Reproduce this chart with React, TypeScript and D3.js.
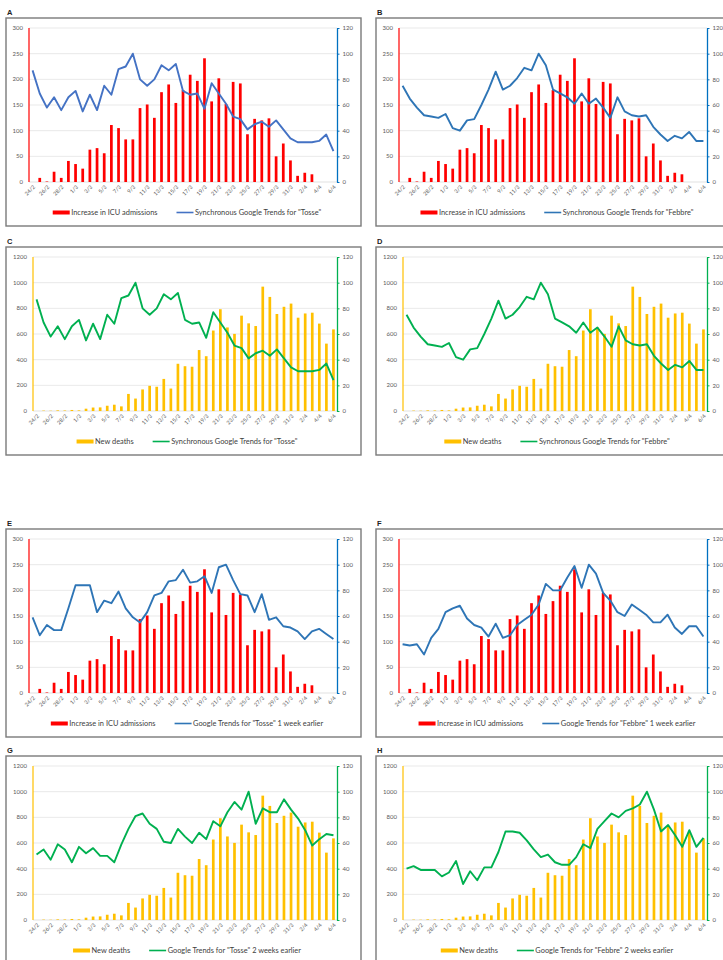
import { useEffect, useRef } from "react";
import * as d3 from "d3";

const dates = [
  "24/2", "25/2", "26/2", "27/2", "28/2", "29/2",
  "1/3", "2/3", "3/3", "4/3", "5/3", "6/3", "7/3", "8/3", "9/3", "10/3",
  "11/3", "12/3", "13/3", "14/3", "15/3", "16/3", "17/3", "18/3", "19/3", "20/3",
  "21/3", "22/3", "23/3", "24/3", "25/3", "26/3", "27/3", "28/3", "29/3", "30/3", "31/3",
  "1/4", "2/4", "3/4", "4/4", "5/4", "6/4"
];

const icuIncrease = [
  0, 8, 1, 20, 8, 41, 35, 26, 63, 66, 56, 111, 105, 83, 83, 144, 151, 125, 175, 190,
  154, 179, 209, 197, 241, 157, 202, 152, 195, 192, 93, 123, 120, 124, 50, 75, 42,
  12, 18, 15, 0, 0, 0
];

const newDeaths = [
  0, 3, 2, 5, 4, 8, 5, 18, 27, 28, 41, 49, 36, 133, 97, 168, 196, 189, 250, 175,
  368, 349, 345, 475, 427, 627, 793, 651, 601, 743, 683, 662, 969, 889, 756, 812, 837,
  727, 760, 766, 681, 525, 636
];

const tosseSync = [
  87, 69, 58, 66, 56, 66, 71, 55, 68, 56, 75, 68, 88, 90, 100, 80, 75, 80, 91, 87,
  92, 71, 68, 69, 57, 77, 69, 61, 51, 49, 41, 45, 47, 43, 48, 41, 34, 31, 31, 31,
  32, 37, 24
];

const febbreSync = [
  75, 65, 58, 52, 51, 50, 53, 42, 40, 48, 49, 60, 72, 86, 72, 75, 81, 89, 87, 100,
  91, 72, 69, 66, 61, 69, 61, 65, 58, 50, 66, 55, 52, 51, 52, 43, 37, 32, 36, 34,
  39, 32, 32
];

const tosse1w = [
  59, 45, 53, 49, 49, 66, 84, 84, 84, 63, 72, 70, 79, 66, 59, 55, 63, 76, 78, 87,
  88, 96, 86, 87, 91, 78, 98, 100, 88, 77, 76, 63, 77, 57, 59, 52, 51, 48, 42, 48,
  50, 46, 42
];

const febbre1w = [
  38, 37, 38, 30, 43, 50, 63, 66, 68, 58, 53, 51, 44, 54, 43, 45, 53, 57, 61, 69,
  85, 80, 80, 90, 99, 82, 100, 93, 78, 72, 63, 60, 69, 65, 61, 55, 55, 61, 51, 46,
  52, 52, 44
];

const tosse2w = [
  51, 55, 47, 59, 55, 45, 57, 52, 56, 50, 50, 45, 59, 71, 81, 83, 75, 71, 61, 60,
  71, 65, 60, 68, 63, 77, 73, 84, 92, 86, 100, 75, 87, 84, 84, 94, 86, 79, 70, 58,
  63, 67, 66
];

const febbre2w = [
  40, 42, 39, 39, 39, 34, 37, 46, 28, 38, 31, 41, 41, 53, 69, 69, 68, 62, 55, 49,
  51, 45, 43, 43, 49, 59, 56, 71, 77, 83, 80, 85, 87, 90, 100, 86, 69, 74, 66, 57,
  70, 57, 64
];

const icuTicks = [0, 50, 100, 150, 200, 250, 300];
const deathTicks = [0, 200, 400, 600, 800, 1000, 1200];
const trendTicks = [0, 20, 40, 60, 80, 100, 120];

const icuName = "Increase in ICU admissions";
const deathName = "New deaths";

const panels = [
  { id: "A", bars: icuIncrease, barName: icuName, barTicks: icuTicks, trend: tosseSync, trendName: 'Synchronous Google Trends for "Tosse"' },
  { id: "B", bars: icuIncrease, barName: icuName, barTicks: icuTicks, trend: febbreSync, trendName: 'Synchronous Google Trends for "Febbre"' },
  { id: "C", bars: newDeaths, barName: deathName, barTicks: deathTicks, trend: tosseSync, trendName: 'Synchronous Google Trends for "Tosse"' },
  { id: "D", bars: newDeaths, barName: deathName, barTicks: deathTicks, trend: febbreSync, trendName: 'Synchronous Google Trends for "Febbre"' },
  { id: "E", bars: icuIncrease, barName: icuName, barTicks: icuTicks, trend: tosse1w, trendName: 'Google Trends for "Tosse" 1 week earlier' },
  { id: "F", bars: icuIncrease, barName: icuName, barTicks: icuTicks, trend: febbre1w, trendName: 'Google Trends for "Febbre" 1 week earlier' },
  { id: "G", bars: newDeaths, barName: deathName, barTicks: deathTicks, trend: tosse2w, trendName: 'Google Trends for "Tosse" 2 weeks earlier' },
  { id: "H", bars: newDeaths, barName: deathName, barTicks: deathTicks, trend: febbre2w, trendName: 'Google Trends for "Febbre" 2 weeks earlier' }
];

const W = 723;
const H = 960;
const boxLeft = [6, 376];
const boxTop = [18, 247, 529, 756];
const boxW = 355;
const boxH = 208;

export default function App() {
  const ref = useRef<SVGSVGElement>(null);

  useEffect(() => {
    const svg = d3.select(ref.current);
    svg.selectAll("*").remove();

    svg.append("rect").attr("width", W).attr("height", H).attr("fill", "#fff");

    panels.forEach((p, i) => {
      const bx = boxLeft[i % 2];
      const by = boxTop[Math.floor(i / 2)];
      const isIcu = p.bars === icuIncrease;
      const barColor = isIcu ? "#ff0000" : "#ffc000";
      const lineColor = isIcu ? (p.id === "A" ? "#4472c4" : "#2e75b6") : "#00b050";
      const axisColor = isIcu ? "#0070c0" : "#00b050";

      svg.append("text")
        .attr("x", bx + 1)
        .attr("y", by - 3)
        .attr("font-family", "Liberation Sans, Arial, sans-serif")
        .attr("font-weight", "bold")
        .attr("font-size", "7.5px")
        .attr("fill", "#222")
        .text(p.id);

      const g = svg.append("g").attr("transform", `translate(${bx},${by})`);

      g.append("rect")
        .attr("x", 0)
        .attr("y", 0)
        .attr("width", boxW)
        .attr("height", boxH)
        .attr("fill", "#fff")
        .attr("stroke", "#7a7a7a")
        .attr("stroke-width", 1.4);

      const left = isIcu ? 23 : 27;
      const right = 331;
      const top = 10;
      const bottom = 164;

      const x = d3.scaleBand().domain(dates).range([left, right]).padding(0);
      const step = x.bandwidth();
      const bw = step * 0.38;
      const maxL = p.barTicks[p.barTicks.length - 1];
      const yL = d3.scaleLinear().domain([0, maxL]).range([bottom, top]);
      const yR = d3.scaleLinear().domain([0, 120]).range([bottom, top]);

      // gridlines
      g.selectAll(".grid")
        .data(p.barTicks.slice(1))
        .join("line")
        .attr("x1", left)
        .attr("x2", right)
        .attr("y1", d => yL(d))
        .attr("y2", d => yL(d))
        .attr("stroke", "#e3e3e3")
        .attr("stroke-width", 0.8);

      g.append("line")
        .attr("x1", left)
        .attr("x2", right)
        .attr("y1", bottom)
        .attr("y2", bottom)
        .attr("stroke", "#d9d9d9")
        .attr("stroke-width", 0.8);

      // left tick labels
      g.selectAll(".ltick")
        .data(p.barTicks)
        .join("text")
        .attr("x", left - 6)
        .attr("y", d => yL(d))
        .attr("dy", "0.35em")
        .attr("text-anchor", "end")
        .attr("font-size", "6px")
        .attr("fill", "#595959")
        .text(d => d);

      // bars
      g.selectAll(".bar")
        .data(p.bars.map((v, k) => ({ d: dates[k], v })))
        .join("rect")
        .attr("x", d => (x(d.d) as number) + (step - bw) / 2)
        .attr("y", d => yL(Math.min(d.v, maxL)))
        .attr("width", bw)
        .attr("height", d => bottom - yL(Math.min(d.v, maxL)))
        .attr("fill", barColor);

      // left axis line coloured like the bars
      g.append("line")
        .attr("x1", left)
        .attr("x2", left)
        .attr("y1", top)
        .attr("y2", bottom)
        .attr("stroke", barColor)
        .attr("stroke-width", 1.2);

      // right axis
      const ra = g.append("g")
        .attr("transform", `translate(${right},0)`)
        .call(d3.axisRight(yR).tickValues(trendTicks).tickSize(2.5).tickSizeOuter(0).tickPadding(3));
      ra.select(".domain").attr("stroke", axisColor).attr("stroke-width", 1.3);
      ra.selectAll(".tick line").attr("stroke", axisColor).attr("stroke-width", 1);
      ra.selectAll(".tick text")
        .attr("font-size", "6px")
        .attr("font-family", "Lato, sans-serif")
        .attr("fill", "#595959");

      // trend line
      const line = d3.line<number>()
        .x((_, k) => (x(dates[k]) as number) + step / 2)
        .y(v => yR(v));
      g.append("path")
        .datum(p.trend)
        .attr("d", line)
        .attr("fill", "none")
        .attr("stroke", lineColor)
        .attr("stroke-width", 1.9)
        .attr("stroke-linejoin", "round");

      // x labels every other day
      g.selectAll(".xlab")
        .data(dates.filter((_, k) => k % 2 === 0))
        .join("text")
        .attr("transform", d => `translate(${(x(d) as number) + step / 2 + 1.5},${bottom + 4}) rotate(-45)`)
        .attr("text-anchor", "end")
        .attr("dy", "0.35em")
        .attr("font-size", "5.5px")
        .attr("fill", "#595959")
        .text(d => d);

      // legend
      const legY = 194.5;
      const leg = g.append("g");
      leg.append("rect")
        .attr("x", 0)
        .attr("y", legY - 2)
        .attr("width", 17)
        .attr("height", 4)
        .attr("fill", barColor);
      const t1 = leg.append("text")
        .attr("x", 18.5)
        .attr("y", legY)
        .attr("dy", "0.35em")
        .attr("font-size", "7.4px")
        .attr("fill", "#404040")
        .text(p.barName);
      const w1 = (t1.node() as SVGTextElement).getComputedTextLength();
      const lx = 18.5 + w1 + 19;
      leg.append("line")
        .attr("x1", lx)
        .attr("x2", lx + 17)
        .attr("y1", legY)
        .attr("y2", legY)
        .attr("stroke", lineColor)
        .attr("stroke-width", 1.6);
      const t2 = leg.append("text")
        .attr("x", lx + 18.5)
        .attr("y", legY)
        .attr("dy", "0.35em")
        .attr("font-size", "7.4px")
        .attr("fill", "#404040")
        .text(p.trendName);
      const w2 = (t2.node() as SVGTextElement).getComputedTextLength();
      const total = lx + 18.5 + w2;
      leg.attr("transform", `translate(${181 - total / 2},0)`);
    });
  }, []);

  return (
    <svg
      ref={ref}
      width={W}
      height={H}
      style={{ position: "absolute", left: 0, top: 0, fontFamily: "Lato, sans-serif" }}
    />
  );
}
